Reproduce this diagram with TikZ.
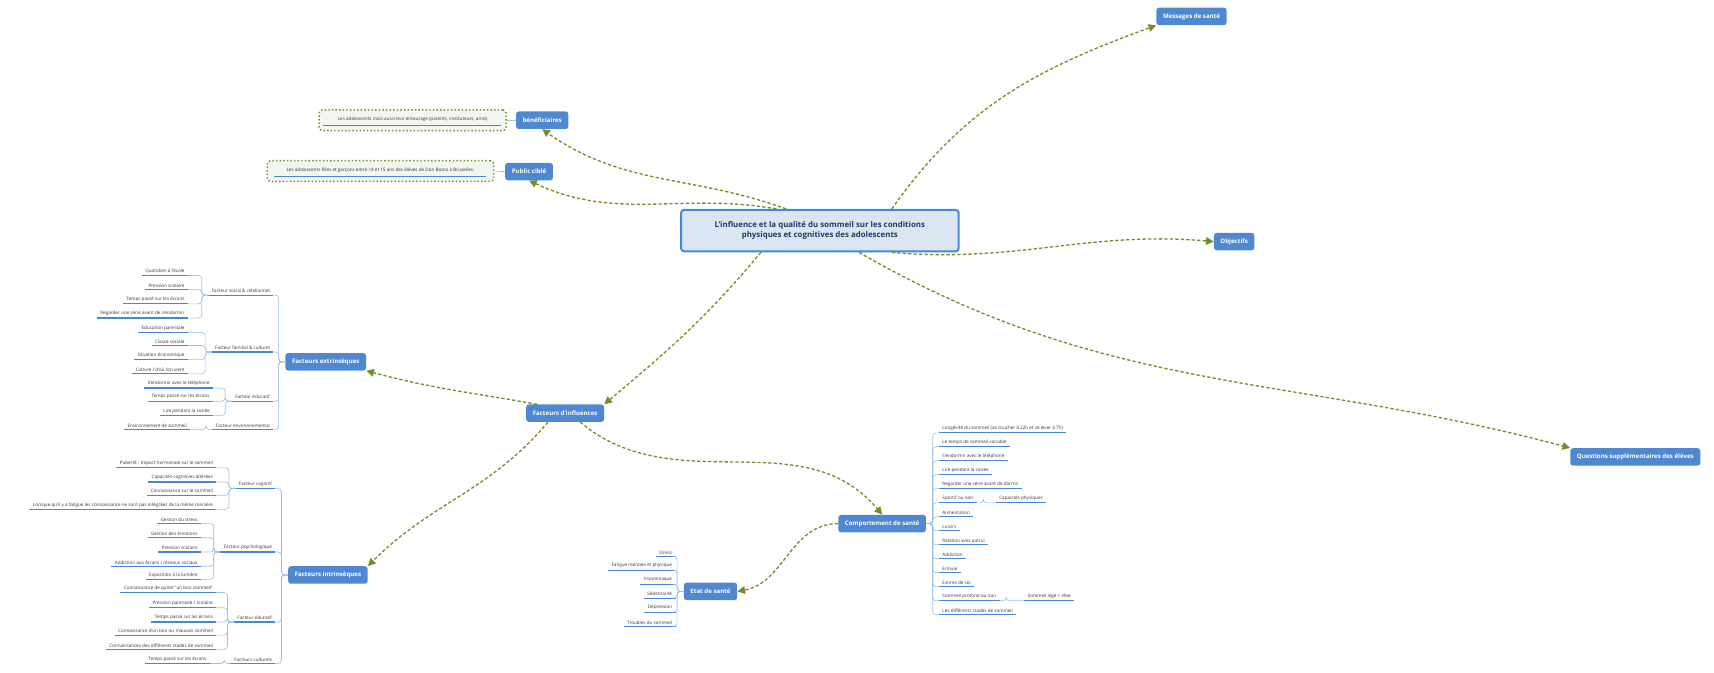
\documentclass[tikz,border=0pt]{standalone}
\usepackage{fontspec}
\setmainfont{Open Sans}
\usetikzlibrary{arrows.meta}
\definecolor{mblue}{HTML}{4F88D0}
\definecolor{uline}{HTML}{4A86D6}
\definecolor{lconn}{HTML}{9CC0EA}
\definecolor{olive}{HTML}{6F8F2F}
\definecolor{cfill}{HTML}{DCE6F2}
\definecolor{navy}{HTML}{1F3864}
\tikzset{
 main/.style={rounded corners=2.5, fill=mblue, text=white, font=\fontsize{5.6}{6.5}\selectfont\bfseries, minimum height=16, inner xsep=6},
 leaf/.style={font=\fontsize{4.2}{5}\selectfont, text=black!80, inner xsep=3, inner ysep=1.8},
 ul/.style={draw=uline, line width=1.1},
 conn/.style={draw=lconn, line width=0.6, rounded corners=3},
 arr/.style={draw=olive, line width=1.2, dashed, dash pattern=on 3pt off 2pt, -{Triangle[length=7pt,width=7pt]}},
 callout/.style={fill=olive!8, draw=olive, line width=1.3, dotted, rounded corners=3, inner sep=0pt}
}
\newcommand\leaves[4]{%
 \foreach \t/\y [count=\i] in {#4}{%
  \node[leaf,anchor=south east] (#2\i) at (#3,\y) {\t};
  \draw[ul] (#2\i.south west) -- (#2\i.south east);
  \draw[conn] (#1) -- ++(-6,0) |- (#2\i.south east);
 }}
\newcommand\rleaves[4]{%
 \foreach \t/\y [count=\i] in {#4}{%
  \node[leaf,anchor=south west] (#2\i) at (#3,\y) {\t};
  \draw[ul] (#2\i.south west) -- (#2\i.south east);
  \draw[conn] (#1) -- ++(6,0) |- (#2\i.south west);
 }}
\begin{document}
\begin{tikzpicture}[x=1pt,y=-1pt]
\useasboundingbox (0,0) rectangle (1568,615);
% central
\node[fill=cfill, draw=uline, line width=1.8, rounded corners=3, minimum width=254, minimum height=38, align=center, text=navy, font=\fontsize{7.2}{9}\selectfont\bfseries] (C) at (750,211) {L'influence et la qualité du sommeil sur les conditions\\physiques et cognitives des adolescents};
% main nodes
\node[main] (Msg) at (1090,15) {Messages de santé};
\node[main] (Ben) at (496,110) {bénéficiaires};
\node[main] (Pub) at (484,157) {Public ciblé};
\node[main] (Obj) at (1129,221) {Objectifs};
\node[main] (Qst) at (1496,418) {Questions supplémentaires des élèves};
\node[main] (Fext) at (298,331) {Facteurs extrinsèques};
\node[main] (Fi) at (517,378) {Facteurs d'influences};
\node[main] (Fint) at (300,526) {Facteurs intrinsèques};
\node[main] (Comp) at (807,479) {Comportement de santé};
\node[main] (Etat) at (650,541) {Etat de santé};
% callouts
\node[callout, minimum width=171, minimum height=19] (cb) at (377.5,110) {};
\node[leaf] (cbt) at (377.5,109.5) {Les adolescents mais aussi leur entourage (parents, instituteurs, amis)};
\draw[ul] (295.5,115) -- (458,115);
\draw[conn] (cb.east) -- (Ben.west);
\node[callout, minimum width=207, minimum height=19] (cp) at (348,156.5) {};
\node[leaf] (cpt) at (348,156) {Les adolescents filles et garçons entre 14 et 15 ans des élèves de Don Bosco à Bruxelles.};
\draw[ul] (251,161.5) -- (445,161.5);
\draw[conn] (cp.east) -- (Pub.west);
% arrows
\draw[arr] (C.north west) ++(97,0) to[out=160,in=-35] (Ben.south);
\draw[arr] (C.north west) ++(88,0) to[out=170,in=-25] (Pub.south);
\draw[arr] (C.north east) ++(-62,0) to[out=55,in=200] (Msg.south west);
\draw[arr] (C.south east) ++(-62,0) to[out=-5,in=175] (Obj.west);
\draw[arr] (C.south east) ++(-92,0) to[out=-30,in=165] (Qst.north west);
\draw[arr] (C.south west) ++(74,0) to[out=-130,in=40] (Fi.north east);
\draw[arr] (Fi.north west) ++(10,0) to[out=170,in=-15] (Fext.south east);
\draw[arr] (Fi.south west) ++(20,0) to[out=-130,in=45] (Fint.north east);
\draw[arr] (Fi.south east) ++(-22,0) to[out=-40,in=130] (Comp.north);
\draw[arr] (Comp.west) to[out=180,in=10] (Etat.east);
% extrinseques
\leaves{Fext.west}{ec}{250}{Facteur social \& relationnel/270,Facteur familial \& culturel/322,Facteur éducatif/367,Facteur environnemental/393}
\leaves{ec1.south west}{eca}{172}{Quotidien à l'école/252,Pression scolaire/265,Temps passé sur les écrans/278,Regarder une série avant de s'endormir/291}
\leaves{ec2.south west}{ecb}{172}{Education parentale/304,Classe sociale/316,Situation économique/329,{Culture / d'où l'on vient}/342}
\leaves{ec3.south west}{ecc}{195}{S'endormir avec le téléphone/355,Temps passé sur les écrans/367,Lire pendant la soirée/380}
\leaves{ec4.south west}{ecd}{174}{Environnement de sommeil/393}
% intrinseques
\leaves{Fint.west}{ic}{252}{Facteur cognitif/447,Facteur psychologique/505,Facteur éducatif/569,Facteurs culturels/607}
\leaves{ic1.south west}{ica}{198}{Puberté : Impact hormonale sur le sommeil/428,Capacités cognitives altérées/441,Connaissance sur le sommeil/453,Lorsque qu'il y a fatigue les connaissance ne sont pas intégrées de la même manière/466}
\leaves{ic2.south west}{icb}{184}{Gestion du stress/479,Gestion des émotions/492,Pression scolaire/505,{Addiction aux écrans / réseaux sociaux}/518,Exposition à la lumière/530}
\leaves{ic3.south west}{icc}{198}{Connaissance de qu'est "un bon sommeil"/542,{Pression parentale / scolaire}/556,Temps passé sur les écrans/569,Connaissance d'un bon ou mauvais sommeil/581,Connaissances des différents stades de sommeil/594}
\leaves{ic4.south west}{icd}{192}{Temps passé sur les écrans/607}
% comportement
\rleaves{Comp.east}{cc}{859}{Longévité du sommeil (se coucher à 22h et se lever à 7h)/396,Le temps de sommeil variable/408.7,S'endormir avec le téléphone/421.5,Lire pendant la soirée/434.3,Regarder une série avant de dormir/447,Sportif ou non/460,Alimentation/472.8,Loisirs/485.6,Relation avec autrui/498.4,Addiction/511.2,Ennuie/524,Estime de soi/536.8,Sommeil profond ou non/549.6,Les différents stades de sommeil/562.4}
\rleaves{cc6.south east}{cca}{911}{Capacités physiques/460}
\rleaves{cc13.south east}{ccb}{937}{Sommeil légé + rêve/549.6}
% etat
\leaves{Etat.west}{et}{618}{Stress/509,Fatigue mentale et physique/521.6,Insomniaque/534.4,Sédentarité/547.2,Dépression/560,Troubles du sommeil/573}
\end{tikzpicture}
\end{document}
